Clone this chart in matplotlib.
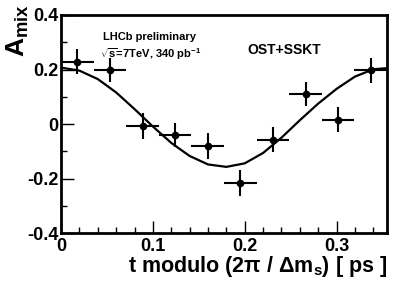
import matplotlib
matplotlib.use("Agg")
import matplotlib.pyplot as plt
from matplotlib.ticker import MultipleLocator

plt.rcParams['font.family'] = ['Liberation Sans', 'DejaVu Sans']
plt.rcParams['font.weight'] = 'bold'
plt.rcParams['mathtext.fontset'] = 'custom'
plt.rcParams['mathtext.rm'] = 'Liberation Sans:bold'
plt.rcParams['mathtext.it'] = 'Liberation Sans:bold'
plt.rcParams['mathtext.bf'] = 'Liberation Sans:bold'
plt.rcParams['mathtext.sf'] = 'Liberation Sans:bold'
plt.rcParams['mathtext.default'] = 'rm'

# data points (bin centres, values, errors, half-bin widths)
t_centres = [0.0177, 0.0532, 0.0887, 0.1242, 0.1597, 0.1952, 0.2307, 0.2662, 0.3017, 0.3372]
a_mix = [0.228, 0.197, -0.007, -0.040, -0.081, -0.216, -0.058, 0.111, 0.016, 0.197]
a_err = [0.046, 0.044, 0.046, 0.043, 0.047, 0.046, 0.046, 0.045, 0.046, 0.045]
t_halfwidth = [0.0177] * 10

# fitted curve
curve_t = [0.0, 0.02, 0.04, 0.06, 0.08, 0.10, 0.12, 0.14, 0.16, 0.18, 0.20, 0.22,
           0.24, 0.26, 0.28, 0.30, 0.32, 0.34, 0.355]
curve_a = [0.207, 0.196, 0.165, 0.116, 0.055, -0.009, -0.069, -0.117, -0.148, -0.157,
           -0.144, -0.106, -0.050, 0.014, 0.075, 0.129, 0.174, 0.201, 0.205]

fig = plt.figure(figsize=(4.07, 2.94), dpi=100)
ax = fig.add_axes([0.150, 0.207, 0.801, 0.742])

ax.plot(curve_t, curve_a, color='black', lw=1.6, zorder=2)
ax.errorbar(t_centres, a_mix, yerr=a_err, xerr=t_halfwidth, fmt='o', color='black',
            ms=4.5, elinewidth=1.5, capsize=0, zorder=3)

ax.set_xlim(0, 0.355)
ax.set_ylim(-0.4, 0.4)
ax.xaxis.set_minor_locator(MultipleLocator(0.02))
ax.yaxis.set_minor_locator(MultipleLocator(0.1))
ax.tick_params(which='both', direction='in', top=False, right=False, width=1.0,
               labelsize=13, colors='black')
ax.tick_params(which='major', length=9)
ax.tick_params(which='minor', length=4.5)
ax.set_xticks([0, 0.1, 0.2, 0.3])
ax.set_xticklabels(['0', '0.1', '0.2', '0.3'], fontweight='bold')
ax.set_yticks([-0.4, -0.2, 0, 0.2, 0.4])
ax.set_yticklabels(['-0.4', '-0.2', '0', '0.2', '0.4'], fontweight='bold')
ax.tick_params(axis='x', pad=3.5)
ax.tick_params(axis='y', pad=2)
for s in ax.spines.values():
    s.set_linewidth(2.0)

fig.text(0.951, 0.092, 't modulo (2π / Δm$_{s}$) [ ps ]', ha='right', va='center',
         fontsize=15.5, fontweight='bold')
fig.text(0.045, 0.985, 'A$_{mix}$', rotation=90, ha='center', va='top',
         fontsize=19, fontweight='bold')

ax.text(0.129, 0.899, 'LHCb preliminary', transform=ax.transAxes, fontsize=8,
        fontweight='bold', ha='left', va='center')
ax.text(0.12, 0.821, '$\\sqrt{s}$=7TeV, 340 pb$^{-1}$', transform=ax.transAxes, fontsize=8,
        fontweight='bold', ha='left', va='center')
ax.text(0.572, 0.839, 'OST+SSKT', transform=ax.transAxes, fontsize=10,
        fontweight='bold', ha='left', va='center')

fig.savefig('out.png', dpi=100)
